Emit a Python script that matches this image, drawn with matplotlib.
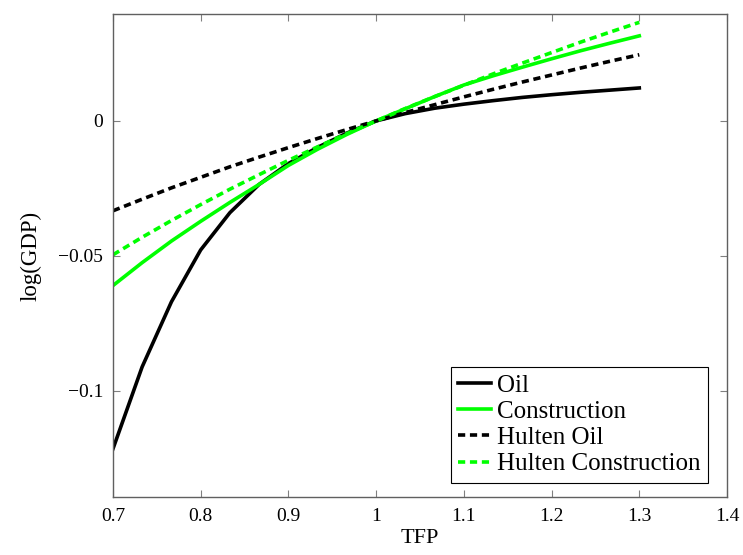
import matplotlib
matplotlib.use("Agg")
import matplotlib.pyplot as plt

tfp = [0.7, 0.7333, 0.7667, 0.8, 0.8333, 0.8667, 0.9, 0.9333, 0.9667, 1.0,
       1.0333, 1.0667, 1.1, 1.1333, 1.1667, 1.2, 1.2333, 1.2667, 1.3]
oil = [-0.1215, -0.0911, -0.0670, -0.0478, -0.0340, -0.0235, -0.0158, -0.0098, -0.0045, 0.0,
       0.0027, 0.0047, 0.0062, 0.0075, 0.0087, 0.0097, 0.0106, 0.0114, 0.0122]
construction = [-0.0610, -0.0525, -0.0445, -0.0372, -0.0302, -0.0235, -0.0165, -0.0105, -0.0050, 0.0,
                0.0045, 0.0090, 0.0133, 0.0167, 0.0199, 0.0230, 0.0260, 0.0288, 0.0315]
hulten_oil = [-0.0333, -0.0290, -0.0248, -0.0209, -0.0170, -0.0134, -0.0099, -0.0065, -0.0032, 0.0,
              0.0031, 0.0060, 0.0089, 0.0117, 0.0144, 0.0170, 0.0196, 0.0221, 0.0245]
hulten_construction = [-0.0496, -0.0431, -0.0369, -0.0310, -0.0253, -0.0199, -0.0146, -0.0096, -0.0047, 0.0,
                       0.0046, 0.0090, 0.0132, 0.0174, 0.0214, 0.0253, 0.0292, 0.0329, 0.0365]

xticks = [0.7, 0.8, 0.9, 1.0, 1.1, 1.2, 1.3, 1.4]
xticklabels = ["0.7", "0.8", "0.9", "1", "1.1", "1.2", "1.3", "1.4"]
yticks = [-0.1, -0.05, 0.0]
yticklabels = ["\u22120.1", "\u22120.05", "0"]

plt.rcParams['font.family'] = ['Liberation Serif', 'DejaVu Serif']

fig = plt.figure(figsize=(7.43, 5.55), dpi=100)
ax = fig.add_axes([0.152, 0.1045, 0.8265, 0.8703])

green = '#00ff00'
lw = 2.6
dash = (0, (2.0, 1.3))
ax.plot(tfp, oil, color='black', lw=lw, label='Oil')
ax.plot(tfp, construction, color=green, lw=lw, label='Construction')
ax.plot(tfp, hulten_oil, color='black', lw=lw, linestyle=dash, label='Hulten Oil')
ax.plot(tfp, hulten_construction, color=green, lw=lw, linestyle=dash, label='Hulten Construction')

ax.set_xlim(0.7, 1.4)
ax.set_ylim(-0.1393, 0.0396)
ax.set_xticks(xticks)
ax.set_xticklabels(xticklabels)
ax.set_yticks(yticks)
ax.set_yticklabels(yticklabels)
ax.tick_params(direction='in', top=True, right=True, length=5, width=0.8,
               color='#808080', labelsize=14)
ax.tick_params(axis='x', pad=8)
ax.tick_params(axis='y', pad=7)
for s in ax.spines.values():
    s.set_color('#606060')
    s.set_linewidth(1.0)

ax.set_xlabel('TFP', fontsize=16, labelpad=3)
ax.set_ylabel('log(GDP)', fontsize=16.5, labelpad=12)

leg = ax.legend(loc='lower right', bbox_to_anchor=(0.969, 0.029), fontsize=18, frameon=True,
                fancybox=False, edgecolor='black', framealpha=1, handlelength=1.3,
                handletextpad=0.25, borderpad=0.3, labelspacing=0.15, borderaxespad=0.0)
leg.get_frame().set_linewidth(0.8)

fig.savefig('out.png', dpi=100)
